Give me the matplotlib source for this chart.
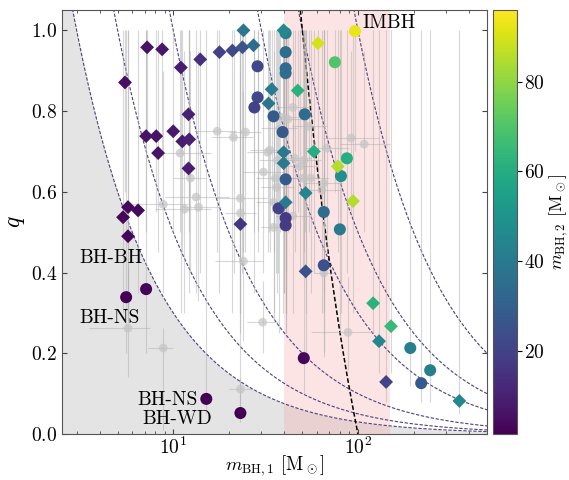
import numpy as np
import matplotlib.pyplot as plt
import matplotlib as mpl

plt.rcParams['font.family'] = 'serif'
plt.rcParams['font.serif'] = ['cmr10']
plt.rcParams['mathtext.fontset'] = 'cm'
plt.rcParams['axes.formatter.use_mathtext'] = True

# colored diamonds: primary mass, mass ratio, secondary mass (color), lower q bound
D_m1 = [5.48, 7.22, 8.71, 11.0, 14.0, 17.8, 20.9, 23.7, 27.2, 24.0, 34.1, 32.8, 39.6, 12.1,
        7.13, 8.09, 10.0, 11.2, 12.2, 8.28, 12.1, 5.69, 6.45, 5.35, 5.69, 23.1, 39.6, 39.6,
        40.6, 60.7, 47.2, 57.7, 77.8, 52.1, 94.0, 52.1, 120.8, 151, 130, 142, 354]
D_q = [0.871, 0.958, 0.953, 0.908, 0.928, 0.946, 0.950, 0.958, 0.963, 1.0, 0.854, 0.819, 1.0,
       0.792, 0.738, 0.738, 0.750, 0.725, 0.730, 0.696, 0.658, 0.562, 0.554, 0.537, 0.490, 0.520,
       0.698, 0.671, 0.574, 0.968, 0.851, 0.700, 0.663, 0.597, 0.577, 0.403, 0.324, 0.267, 0.230,
       0.129, 0.082]
D_m2 = [5, 6, 7, 9, 14, 20, 22, 26, 34, 38, 40, 38, 46, 10, 6, 6, 8, 9, 10, 6, 9, 3.5, 3.5, 3, 3,
        16, 40, 40, 40, 90, 62, 60, 85, 45, 85, 25, 62, 65, 45, 20, 45]
D_qlo = [0.6, 0.75, 0.7, 0.3, 0.4, 0.35, 0.3, 0.4, 0.35, 0.45, 0.55, 0.5, 0.5, 0.55, 0.5, 0.55,
         0.5, 0.45, 0.5, 0.45, 0.35, 0.3, 0.35, 0.3, 0.28, 0.25, 0.35, 0.35, 0.3, 0.6, 0.55, 0.4,
         0.45, 0.3, 0.3, 0.2, 0.25, 0.15, 0.15, 0.08, 0.05]

# colored circles
C_m1 = [28.6, 28.6, 27.5, 34.9, 40.6, 40.6, 40.6, 40.6, 39.1, 40.6, 37.2, 40.6, 40.6, 96.4,
        75.0, 51.5, 87.1, 80.9, 65.3, 79.8, 65.3, 192, 246, 220, 50.9, 5.56, 7.13, 15.1, 23.1]
C_q = [0.911, 0.834, 0.809, 0.787, 0.946, 0.906, 0.894, 0.993, 0.748, 0.631, 0.559, 0.535, 0.517,
       0.998, 0.921, 0.792, 0.683, 0.639, 0.550, 0.507, 0.418, 0.213, 0.158, 0.126, 0.188, 0.339,
       0.359, 0.087, 0.052]
C_m2 = [22, 22, 20, 28, 35, 35, 35, 42, 28, 28, 20, 18, 18, 93, 70, 35, 60, 48, 35, 40, 25, 42,
        42, 28, 3, 2, 2.5, 1.5, 1.5]
C_qlo = [0.45, 0.5, 0.5, 0.45, 0.4, 0.35, 0.3, 0.55, 0.3, 0.3, 0.25, 0.25, 0.25, 0.7, 0.6, 0.5,
         0.4, 0.3, 0.3, 0.25, 0.2, 0.12, 0.08, 0.08, 0.1, 0.2, 0.2, 0.05, 0.03]

# grey candidates with error ranges
G_m1 = [17.3, 21.2, 24.6, 10.9, 12.4, 8.83, 11.5, 13.7, 13.3, 23.1, 23.1, 30.8, 36.3, 34.9, 33.3,
        34.9, 44.4, 41.7, 37.7, 36.7, 35.8, 54.2, 39.1, 91.6, 108, 67.9, 45.5, 50.9, 48.4, 55.6,
        65.3, 63.7, 44.4, 32.4, 24.0, 30.5, 5.69, 8.83, 23.1, 65.3, 88.3, 50.2]
G_q = [0.750, 0.735, 0.748, 0.696, 0.634, 0.569, 0.557, 0.562, 0.587, 0.584, 0.547, 0.649, 0.611,
       0.574, 0.703, 0.512, 0.809, 0.780, 0.757, 0.678, 0.634, 0.762, 0.785, 0.733, 0.718, 0.708,
       0.683, 0.678, 0.663, 0.634, 0.621, 0.604, 0.540, 0.698, 0.428, 0.277, 0.262, 0.213, 0.111,
       0.399, 0.252, 0.634]
G_m1lo = [13, 16, 20, 8, 10, 6, 8, 11, 9, 17, 19, 24, 30, 28, 26, 30, 36, 33, 30, 29, 28, 44, 33,
          65, 80, 52, 37, 40, 40, 45, 52, 50, 36, 25, 16.9, 25.2, 3.5, 7.3, 20, 58, 55.6, 42]
G_m1hi = [22, 27, 30, 16, 15, 12, 16, 18, 20, 32, 28, 40, 45, 44, 42, 42, 55, 52, 47, 46, 45, 68,
          47, 130, 150, 90, 56, 63, 60, 70, 82, 80, 55, 42, 30.8, 36.8, 7.5, 10, 27, 74, 122, 60]
G_qlo = [0.45, 0.4, 0.45, 0.5, 0.4, 0.35, 0.3, 0.33, 0.35, 0.3, 0.3, 0.4, 0.35, 0.3, 0.45, 0.28,
         0.55, 0.5, 0.5, 0.4, 0.4, 0.5, 0.55, 0.55, 0.5, 0.45, 0.45, 0.45, 0.4, 0.35, 0.35, 0.3,
         0.3, 0.45, 0.23, 0.2, 0.141, 0.01, 0.06, 0.19, 0.158, 0.4]
G_qhi = [1.0, 1.0, 1.0, 1.0, 0.95, 0.9, 0.95, 0.95, 1.0, 1.0, 0.9, 1.0, 1.0, 0.95, 1.0, 0.85,
         1.0, 1.0, 1.0, 1.0, 1.0, 1.0, 1.0, 0.95, 0.95, 1.0, 1.0, 1.0, 1.0, 1.0, 1.0, 1.0, 0.9,
         1.0, 0.85, 0.38, 0.413, 0.262, 0.14, 0.65, 0.389, 1.0]

m2_lines = [3, 5, 10, 30, 50, 100]
M_tot = 100
imbh_band = (40, 150)

fig = plt.figure(figsize=(5.69, 4.8), dpi=100)
ax = fig.add_axes([0.109, 0.0958, 0.747, 0.883])
cax = fig.add_axes([0.866, 0.0958, 0.042, 0.883])

ax.set_xscale('log')
ax.set_xlim(2.5, 500)
ax.set_ylim(0, 1.05)

m = np.logspace(np.log10(2.5), np.log10(500), 500)
ax.fill_between(m, 0, np.minimum(3.0 / m, 1.05), color='#e4e4e4', lw=0, zorder=0)
ax.axvspan(imbh_band[0], imbh_band[1], color='#f7a0a0', alpha=0.28, lw=0, zorder=0.5)

for m2 in m2_lines:
    ax.plot(m, m2 / m, ls='--', dashes=(3, 1.5), color='#4a3f80', lw=0.8, zorder=1)
mt = np.linspace(M_tot / 2.05, M_tot, 200)
ax.plot(mt, M_tot / mt - 1, ls='--', dashes=(3, 1.5), color='black', lw=1.1, zorder=1)

# error bars
G_m1a = np.array(G_m1); G_qa = np.array(G_q)
ax.errorbar(G_m1a, G_qa,
            xerr=[G_m1a - np.array(G_m1lo), np.array(G_m1hi) - G_m1a],
            yerr=[G_qa - np.array(G_qlo), np.array(G_qhi) - G_qa],
            fmt='none', ecolor='#b0b0b0', elinewidth=0.8, alpha=0.5, zorder=2)
for m1s, qs, qlos in [(D_m1, D_q, D_qlo), (C_m1, C_q, C_qlo)]:
    qa = np.array(qs)
    ax.errorbar(m1s, qa, yerr=[qa - np.array(qlos), np.clip(1.0 - qa, 0, None)],
                fmt='none', ecolor='#b0b0b0', elinewidth=0.8, alpha=0.5, zorder=2)
ax.scatter(G_m1, G_q, s=40, color='#c4c4c4', alpha=0.7, edgecolors='none', zorder=3)

norm = mpl.colors.Normalize(vmin=1.4, vmax=96)
sc = ax.scatter(C_m1, C_q, c=C_m2, cmap='viridis', norm=norm, s=75, marker='o',
                edgecolors='none', zorder=4)
ax.scatter(D_m1, D_q, c=D_m2, cmap='viridis', norm=norm, s=50, marker='D',
           edgecolors='none', zorder=4)

fs = 14
ax.text(3.12, 0.436, 'BH-BH', fontsize=fs, va='center')
ax.text(3.12, 0.287, 'BH-NS', fontsize=fs, va='center')
ax.text(13.6, 0.084, 'BH-NS', fontsize=fs, va='center', ha='right')
ax.text(6.8, 0.037, 'BH-WD', fontsize=fs, va='center')
ax.text(106, 1.017, 'IMBH', fontsize=fs, va='center')

ax.set_xlabel(r'$m_{\rm BH,1}$ [M$_\odot$]', fontsize=13.5)
ax.xaxis.set_label_coords(0.5, -0.075)
ax.xaxis.label.set_va('center')
ax.set_ylabel(r'$q$', fontsize=17, labelpad=3)
ax.set_yticks([0.0, 0.2, 0.4, 0.6, 0.8, 1.0])
ax.tick_params(which='both', direction='in', top=True, right=True, labelsize=fs, colors='#444444',
               labelcolor='black')
ax.tick_params(axis='x', pad=2)
for s in ax.spines.values():
    s.set_color('#555555')

cb = fig.colorbar(sc, cax=cax)
cb.set_ticks([20, 40, 60, 80])
cb.ax.tick_params(labelsize=fs, pad=2)
cb.set_label(r'$m_{\rm BH,2}$ [M$_\odot$]', fontsize=13)
cax.yaxis.set_label_coords(2.78, 0.5)
cax.yaxis.label.set_va('center')
cax.yaxis.label.set_ha('center')
cb.outline.set_edgecolor('#555555')

fig.savefig('out.png', dpi=100)
